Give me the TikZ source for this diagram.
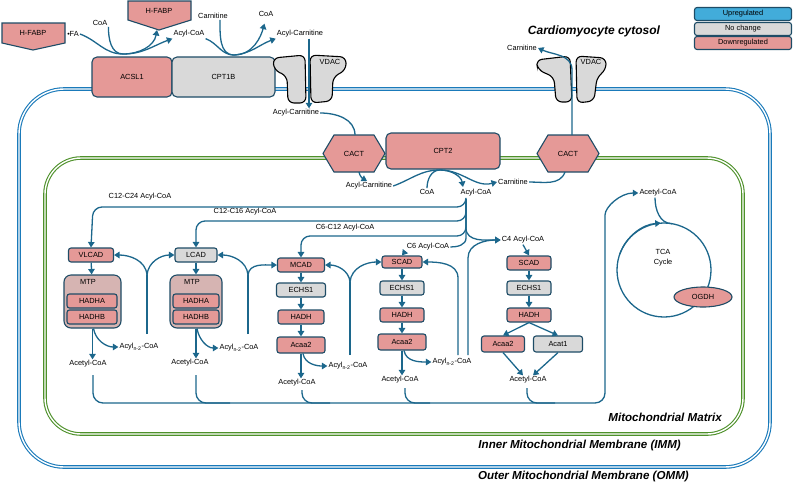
\documentclass[tikz,border=0pt]{standalone}
\usepackage{fontspec}
\setmainfont{Liberation Sans}
\usetikzlibrary{arrows.meta,shapes.geometric}
\definecolor{dnred}{RGB}{229,153,151}
\definecolor{nochg}{RGB}{217,217,217}
\definecolor{upblue}{RGB}{66,172,218}
\definecolor{edgeblue}{RGB}{30,76,102}
\definecolor{flowblue}{RGB}{28,103,140}
\definecolor{mtpfill}{RGB}{214,180,178}
\definecolor{immgreen}{RGB}{78,145,42}
\definecolor{ommblue}{RGB}{26,122,186}
\def\acyln{Acyl\textsubscript{n-2}-CoA}

\begin{document}
\begin{tikzpicture}[x=1pt, y=-1pt,
    every node/.style={font=\fontsize{7.4}{9}\selectfont, inner sep=1pt},
    enz/.style={draw=edgeblue, line width=1.1pt, rounded corners=2.5pt, minimum height=14pt, inner sep=0pt},
    dnbox/.style={enz, fill=dnred},
    ncbox/.style={enz, fill=nochg},
    mtpbox/.style={enz, fill=mtpfill, rounded corners=7pt},
    shapebox/.style={draw=edgeblue, line width=1.1pt, fill=dnred},
    vdacbox/.style={draw=black, line width=1.1pt, fill=nochg, rounded corners=6pt},
    flow/.style={draw=flowblue, line width=1.3pt},
    flowarr/.style={flow, -{Triangle[width=6.5pt,length=5.5pt]}},
    membrane/.style={draw=#1, line width=1.1pt, double=white, double distance=1.4pt},
    zonelbl/.style={font=\bfseries\itshape\fontsize{11.6}{13}\selectfont},
  ]
\useasboundingbox (0,0) rectangle (794,483);

% membranes
\draw[membrane=ommblue, rounded corners=45] (19,89) rectangle (770,467);
\draw[membrane=immgreen, rounded corners=36] (45,158) rectangle (743,434);

% cytosol side
\draw[shapebox] (2,23) -- (65,23) -- (65,43) -- (33,50) -- (2,43) -- cycle;
\node (fabp1) at (33,33) {H-FABP};
\draw[shapebox] (128,1) -- (191,1) -- (191,20) -- (159,30) -- (128,20) -- cycle;
\node (fabp2) at (159,11) {H-FABP};
\coordinate (fabp2tip) at (157,30);
\node (fa) at (73,34) {{\scriptsize\textbullet}FA};
\node (coaA) at (100,23) {CoA};
\node (acylcoaA) at (189,34) {Acyl-CoA};
\node (carnA) at (213,16) {Carnitine};
\node (coaB) at (266,14) {CoA};
\node (acylcarnA) at (300,34) {Acyl-Carnitine};
\node[dnbox, minimum width=80pt, minimum height=40pt, rounded corners=5pt] (acsl) at (132,77) {ACSL1};
\node[ncbox, minimum width=103pt, minimum height=40pt, rounded corners=5pt] (cpt1b) at (223.5,77) {CPT1B};
\draw[vdacbox] (273,58) -- (305,55) -- (306,103) -- (288,103) -- (287,76) -- (274,70) -- cycle;
\draw[vdacbox] (310,55) -- (346,57) -- (346,70) -- (333,77) -- (332,101) -- (311,103) -- cycle;
\node (vdac1) at (330,62) {VDAC};
\draw[vdacbox] (536,60) -- (570,56) -- (572,102) -- (556,102) -- (554,77) -- (538,70) -- cycle;
\draw[vdacbox] (576,56) -- (606,58) -- (606,70) -- (597,77) -- (594,101) -- (577,103) -- cycle;
\node (vdac2) at (591,62) {VDAC};
\node (carnR) at (522,48) {Carnitine};
\node[zonelbl, font=\bfseries\itshape\fontsize{12}{14}\selectfont] (cyto) at (594,31) {Cardiomyocyte cytosol};

% legend
\node[enz, fill=upblue, minimum width=97pt, minimum height=13pt] (legup) at (743,14) {Upregulated};
\node[enz, fill=nochg, minimum width=97pt, minimum height=13pt] (legnc) at (743,29) {No change};
\node[enz, fill=dnred, minimum width=97pt, minimum height=13pt] (legdn) at (743,43) {Downregulated};

% uptake and activation
\draw[flow] (fa.east) to[out=-20,in=180] (123,54);
\draw[flow] (coaA.south east) to[out=-90,in=180] (123,54);
\draw[flowarr] (123,54) to[out=0,in=-100] (fabp2tip);
\draw[flowarr] (123,54) to[out=0,in=200] (acylcoaA.south west);
\draw[flow] ([xshift=7pt]carnA.south) to[out=-90,in=180] (234,55);
\draw[flow] (acylcoaA.south east) to[out=-20,in=180] (234,55);
\draw[flowarr, shorten >=6pt] (234,55) to[out=0,in=-105] (coaB.south);
\draw[flowarr] (234,55) to[out=5,in=200] (acylcarnA.south west);
\node (acylcarnB) at (296,113) {Acyl-Carnitine};
\draw[flowarr] ([xshift=9pt]acylcarnA.south) -- ([xshift=13pt]acylcarnB.north);

% inner membrane carriers
\draw[shapebox] (354,153.5) +(-31,0) -- +(-20,-18.5) -- +(20,-18.5) -- +(31,0) -- +(20,18.5) -- +(-20,18.5) -- cycle;
\node (cactL) at (354,153.5) {CACT};
\node[dnbox, minimum width=114pt, minimum height=36pt, rounded corners=5pt] (cpt2) at (443,151) {CPT2};
\draw[shapebox] (568,153.5) +(-31,0) -- +(-20,-18.5) -- +(20,-18.5) -- +(31,0) -- +(20,18.5) -- +(-20,18.5) -- cycle;
\node (cactR) at (568,153.5) {CACT};
\draw[flow] (acylcarnB.east) to[out=0,in=90] (355,135);
\draw[flowarr] (572,135) -- (572,70) to[out=90,in=-25] (carnR.east);

% matrix entry
\node (acylcarnC) at (369,186) {Acyl-Carnitine};
\node (coaC) at (427,192) {CoA};
\node (acylcoaC) at (476,193) {Acyl-CoA};
\node (carnC) at (513,182) {Carnitine};
\coordinate (trunk) at (466,199);
\draw[flowarr] (359,172) to[out=-80,in=150] (367,181);
\draw[flow] (acylcarnC.east) to[out=20,in=180] (440,170);
\draw[flow] (coaC.north) to[out=90,in=180] (440,170);
\draw[flowarr] (440,170) to[out=0,in=100] (463,187);
\draw[flowarr] (440,170) to[out=0,in=195] (carnC.west);
\draw[flow] (carnC.east) to[out=0,in=-110] (565,172);

% chain-length split
\node (lblA) at (140,197) {C12-C24 Acyl-CoA};
\node (lblB) at (245,212) {C12-C16 Acyl-CoA};
\node (lblC) at (345,228) {C6-C12 Acyl-CoA};
\node (lblD) at (428,247) {C6 Acyl-CoA};
\node (lblE) at (523,240) {C4 Acyl-CoA};

% VLCAD column
\node[dnbox, minimum width=45pt] (vlcad) at (91,255) {VLCAD};
\node[mtpbox, minimum width=57pt, minimum height=53pt] (mtp1) at (92.5,301.5) {};
\node (mtpname1) at (88,282) {MTP};
\node[dnbox, minimum width=50pt] (hadha1) at (92,301) {HADHA};
\node[dnbox, minimum width=50pt] (hadhb1) at (92,317) {HADHB};
\node (acet1) at (88,364) {Acetyl-CoA};
\node (acyl1) at (139,347) {\acyln};

% LCAD column
\node[ncbox, minimum width=42pt] (lcad) at (196,255) {LCAD};
\node[mtpbox, minimum width=52pt, minimum height=53pt] (mtp2) at (196,301.5) {};
\node (mtpname2) at (192,282) {MTP};
\node[dnbox, minimum width=46pt] (hadha2) at (196,301) {HADHA};
\node[dnbox, minimum width=46pt] (hadhb2) at (196,317) {HADHB};
\node (acet2) at (190,363) {Acetyl-CoA};
\node (acyl2) at (239,348) {\acyln};

% MCAD column
\node[dnbox, minimum width=47pt] (mcad) at (301,265) {MCAD};
\node[ncbox, minimum width=49pt] (echs3) at (301,290) {ECHS1};
\node[dnbox, minimum width=46pt] (hadh3) at (301,317) {HADH};
\node[dnbox, minimum width=48pt, minimum height=16pt] (acaa3) at (301,345) {Acaa2};
\node (acet3) at (297,383) {Acetyl-CoA};
\node (acyl3) at (348,366) {\acyln};

% SCAD column (C6)
\node[dnbox, minimum width=40pt, minimum height=12pt] (scad4) at (402,262) {SCAD};
\node[ncbox, minimum width=44pt] (echs4) at (402,288) {ECHS1};
\node[dnbox, minimum width=44pt] (hadh4) at (402,315) {HADH};
\node[dnbox, minimum width=48pt, minimum height=16pt] (acaa4) at (402,342) {Acaa2};
\node (acet4) at (400,380) {Acetyl-CoA};
\node (acyl4) at (452,362) {\acyln};

% SCAD column (C4)
\node[dnbox, minimum width=44pt] (scad5) at (529,263) {SCAD};
\node[ncbox, minimum width=44pt] (echs5) at (529,288) {ECHS1};
\node[dnbox, minimum width=44pt] (hadh5) at (529,315) {HADH};
\node[dnbox, minimum width=43pt, minimum height=16pt] (acaa5) at (503,344) {Acaa2};
\node[ncbox, minimum width=49pt, minimum height=16pt] (acat5) at (558,344) {Acat1};
\node (acet5) at (528,380) {Acetyl-CoA};

% branches from the acyl-CoA pool
\draw[flowarr, rounded corners=9] (trunk) |- (93,207) -- (vlcad.north);
\draw[flowarr, rounded corners=9] (trunk) |- (196,221) -- (lcad.north);
\draw[flowarr, rounded corners=9] (trunk) |- (301,236) -- (mcad.north);
\draw[flow] (trunk) -- (466,238) to[out=-90,in=0] (lblD.east);
\draw[flowarr] (trunk) -- (466,228) to[out=-90,in=180] (lblE.west);
\draw[flowarr] ([xshift=-23pt]lblD.south) -- (scad4.north);
\draw[flowarr] (lblE.south) -- (scad5.north);

% beta-oxidation steps
\draw[flowarr] (vlcad) -- (mtp1);
\draw[flowarr] (lcad) -- (mtp2);
\draw[flowarr] (mcad) -- (echs3);
\draw[flowarr] (echs3) -- (hadh3);
\draw[flowarr] (hadh3) -- (acaa3);
\draw[flowarr] (scad4) -- (echs4);
\draw[flowarr] (echs4) -- (hadh4);
\draw[flowarr] (hadh4) -- (acaa4);
\draw[flowarr] (scad5) -- (echs5);
\draw[flowarr] (echs5) -- (hadh5);
\draw[flowarr] (hadh5.south) -- (acaa5.north);
\draw[flowarr] (hadh5.south) -- (acat5.north);
\draw[flowarr] (acaa5.south) -- ([xshift=-5pt]acet5.north);
\draw[flowarr] (acat5.south) -- ([xshift=5pt]acet5.north);

% acetyl-CoA and shortened acyl-CoA
\draw[flowarr] (mtp1.south) -- (mtp1.south |- acet1.north);
\draw[flowarr] ([xshift=1pt]mtp1.south) to[out=-80,in=180] (acyl1.west);
\draw[flowarr] (mtp2.south) -- (mtp2.south |- acet2.north);
\draw[flowarr] ([xshift=1pt]mtp2.south) to[out=-80,in=180] (acyl2.west);
\draw[flowarr] (acaa3.south) -- (acaa3.south |- acet3.north);
\draw[flowarr] ([xshift=2pt]acaa3.south) to[out=-80,in=180] (acyl3.west);
\draw[flowarr] (acaa4.south) -- (acaa4.south |- acet4.north);
\draw[flowarr] ([xshift=2pt]acaa4.south) to[out=-80,in=180] (acyl4.west);

% recycling of acyl n-2
\coordinate (fork1) at (147,275);
\coordinate (fork2) at (248,275);
\coordinate (fork3) at (350,282);
\draw[flow] (147,334) -- (fork1);
\draw[flowarr] (fork1) to[out=95,in=0] (vlcad.east);
\draw[flowarr] (fork1) to[out=85,in=180] (lcad.west);
\draw[flow] (248,334) -- (fork2);
\draw[flowarr] (fork2) to[out=95,in=0] (lcad.east);
\draw[flowarr] (fork2) to[out=85,in=180] (mcad.west);
\draw[flow] (350,355) -- (fork3);
\draw[flowarr] (fork3) to[out=95,in=0] (mcad.east);
\draw[flowarr] (fork3) to[out=85,in=180] (scad4.west);
\draw[flowarr] (458,355) -- (458,278) to[out=90,in=0] (scad4.east);
\draw[flowarr] (468,355) -- (468,258) to[out=90,in=180] (lblE.west);

% TCA cycle
\node (acetT) at (658,193) {Acetyl-CoA};
\node[align=center, font=\fontsize{7.4}{10}\selectfont] (tca) at (663,258) {TCA\\Cycle};
\draw[flowarr, rounded corners=10] (93,375) |- (605,403) -- (605,225) to[out=90,in=180] (acetT.west);
\draw[flow, rounded corners=10] (196,375) |- (230,403);
\draw[flow, rounded corners=10] (302,390) |- (330,403);
\draw[flow, rounded corners=10] (405,388) |- (430,403);
\draw[flow, rounded corners=10] (527,388) |- (555,403);
\draw[flow] (664,270) circle[radius=47];
\draw[flowarr] (664,270) ++(200:47) arc[start angle=200, end angle=266, radius=47];
\draw[flow] ([xshift=-3pt]acetT.south) to[out=-90,in=180] (672,223.7);
\node[ellipse, draw=edgeblue, line width=1.1pt, fill=dnred, minimum width=58pt, minimum height=20pt, inner sep=0pt] (ogdh) at (703,297) {OGDH};

% compartments
\node[zonelbl, anchor=east] (matrix) at (723,417) {Mitochondrial Matrix};
\node[zonelbl, anchor=east] (imm) at (682,445) {Inner Mitochondrial Membrane (IMM)};
\node[zonelbl, anchor=east] (omm) at (690,476) {Outer Mitochondrial Membrane (OMM)};
\end{tikzpicture}
\end{document}
